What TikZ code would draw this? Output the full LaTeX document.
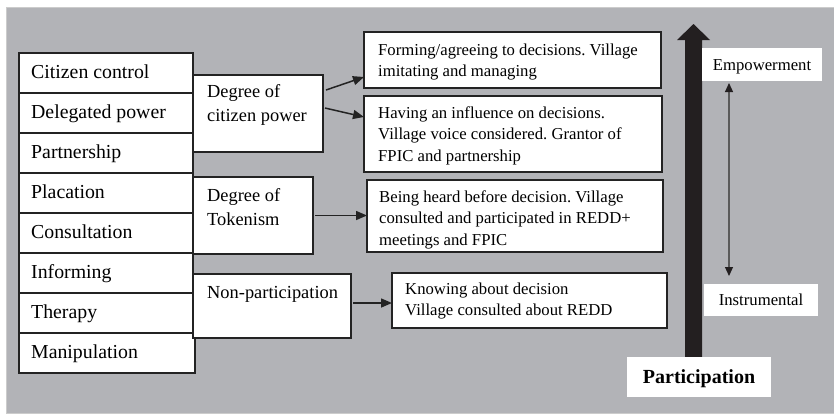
\documentclass[tikz,border=0pt]{standalone}
\usepackage{fontspec}
\setmainfont{Liberation Serif}
\usetikzlibrary{arrows.meta}
\definecolor{bg}{RGB}{178,179,183}
\definecolor{edge}{RGB}{35,35,35}
\definecolor{bigarrow}{RGB}{35,31,32}
\definecolor{thin}{RGB}{90,90,90}
\frenchspacing
\begin{document}
\begin{tikzpicture}[x=1pt,y=-1pt,
  box/.style={draw=edge, fill=white, line width=1.3pt, anchor=north west, inner sep=0pt, outer sep=0pt},
  wbox/.style={fill=white, anchor=north west, inner sep=0pt, outer sep=0pt},
  lt/.style={anchor=base west, inner sep=0pt, font=\fontsize{19.8}{24}\selectfont},
  mt/.style={anchor=base west, inner sep=0pt, font=\fontsize{18.4}{24}\selectfont},
  rt/.style={anchor=base west, inner sep=0pt, font=\fontsize{16.7}{21.8}\selectfont},
  link/.style={draw=edge, line width=1.5pt, -{Triangle[length=11pt,width=9pt]}},
  spanarrow/.style={draw=thin, line width=1.1pt, {Triangle[length=9pt,width=8pt,color=bigarrow]}-{Triangle[length=9pt,width=8pt,color=bigarrow]}}
]
\useasboundingbox (0,0) rectangle (834,413);
\fill[white] (0,0) rectangle (834,413);
\filldraw[fill=bg, draw=gray!40, line width=0.8pt] (6,7) rectangle (834,413);

% left ladder
\node[box, minimum width=174pt, minimum height=40pt] (r1) at (19,53) {};
\node[box, minimum width=174pt, minimum height=40pt] (r2) at (19,93) {};
\node[box, minimum width=174pt, minimum height=40pt] (r3) at (19,133) {};
\node[box, minimum width=174pt, minimum height=40pt] (r4) at (19,173) {};
\node[box, minimum width=174pt, minimum height=40pt] (r5) at (19,213) {};
\node[box, minimum width=174pt, minimum height=40pt] (r6) at (19,253) {};
\node[box, minimum width=174pt, minimum height=40pt] (r7) at (19,293) {};
\node[box, minimum width=176pt, minimum height=40pt] (r8) at (19,333) {};
\node[lt] at ([xshift=12pt,yshift=-25.5pt]r1.north west) {Citizen control};
\node[lt] at ([xshift=12pt,yshift=-25.5pt]r2.north west) {Delegated power};
\node[lt] at ([xshift=12pt,yshift=-25.5pt]r3.north west) {Partnership};
\node[lt] at ([xshift=12pt,yshift=-25.5pt]r4.north west) {Placation};
\node[lt] at ([xshift=12pt,yshift=-25.5pt]r5.north west) {Consultation};
\node[lt] at ([xshift=12pt,yshift=-25.5pt]r6.north west) {Informing};
\node[lt] at ([xshift=12pt,yshift=-25.5pt]r7.north west) {Therapy};
\node[lt] at ([xshift=12pt,yshift=-25.5pt]r8.north west) {Manipulation};

% middle groups
\node[box, minimum width=130pt, minimum height=77pt] (cp) at (193,75) {};
\node[box, minimum width=120pt, minimum height=77pt] (tk) at (193,177) {};
\node[box, minimum width=158pt, minimum height=64pt] (np) at (193,274) {};
\node[mt] at ([xshift=14pt,yshift=-22pt]cp.north west) {\vtop{\hbox{Degree of}\hbox{citizen power}}};
\node[mt] at ([xshift=14pt,yshift=-24pt]tk.north west) {\vtop{\hbox{Degree of}\hbox{Tokenism}}};
\node[mt] at ([xshift=14pt,yshift=-24pt]np.north west) {Non-participation};

% right descriptions
\node[box, minimum width=297pt, minimum height=56pt] (d1) at (364,32) {};
\node[box, minimum width=298pt, minimum height=76pt] (d2) at (364,96) {};
\node[box, minimum width=296pt, minimum height=72pt] (d3) at (367,180) {};
\node[box, minimum width=275pt, minimum height=55pt] (d4) at (392,273) {};
\node[rt] at ([xshift=14pt,yshift=-23pt]d1.north west) {\vtop{\hbox{Forming/agreeing to decisions. Village}\hbox{imitating and managing}}};
\node[rt] at ([xshift=14pt,yshift=-22pt]d2.north west) {\vtop{\hbox{Having an influence on decisions.}\hbox{Village voice considered. Grantor of}\hbox{FPIC and partnership}}};
\node[rt] at ([xshift=12pt,yshift=-22pt]d3.north west) {\vtop{\hbox{Being heard before decision. Village}\hbox{consulted and participated in REDD+}\hbox{meetings and FPIC}}};
\node[rt] at ([xshift=13pt,yshift=-21pt]d4.north west) {\vtop{\hbox{Knowing about decision}\hbox{Village consulted about REDD}}};

% connectors
\draw[link] ([xshift=3pt,yshift=-15pt]cp.north east) -- ([yshift=11pt]d1.south west);
\draw[link] ([xshift=2pt,yshift=-33pt]cp.north east) -- ([yshift=-21pt]d2.north west);
\draw[link] ([xshift=2pt]tk.east) coordinate (a3) -- (a3 -| d3.west);
\draw[link] ([xshift=2pt,yshift=3pt]np.east) coordinate (a4) -- (a4 -| d4.west);

% participation scale
\fill[bigarrow] (685,357) -- (685,40) -- (677,40) -- (693.5,24) -- (710,40) -- (702,40) -- (702,357) -- cycle;
\node[wbox, minimum width=120pt, minimum height=33pt, text height=11pt, text depth=0pt, font=\fontsize{16.7}{20}\selectfont] (emp) at (702,48) {Empowerment};
\node[wbox, minimum width=114pt, minimum height=32pt, text height=11pt, text depth=0pt, font=\fontsize{16.7}{20}\selectfont] (ins) at (704,284) {Instrumental};
\node[wbox, minimum width=144pt, minimum height=40pt, text height=13.3pt, text depth=0pt, font=\bfseries\fontsize{20}{24}\selectfont] (par) at (627,357) {Participation};
\draw[spanarrow] ([xshift=27pt,yshift=-2pt]emp.south west) -- ([xshift=25pt,yshift=8pt]ins.north west);
\end{tikzpicture}
\end{document}
